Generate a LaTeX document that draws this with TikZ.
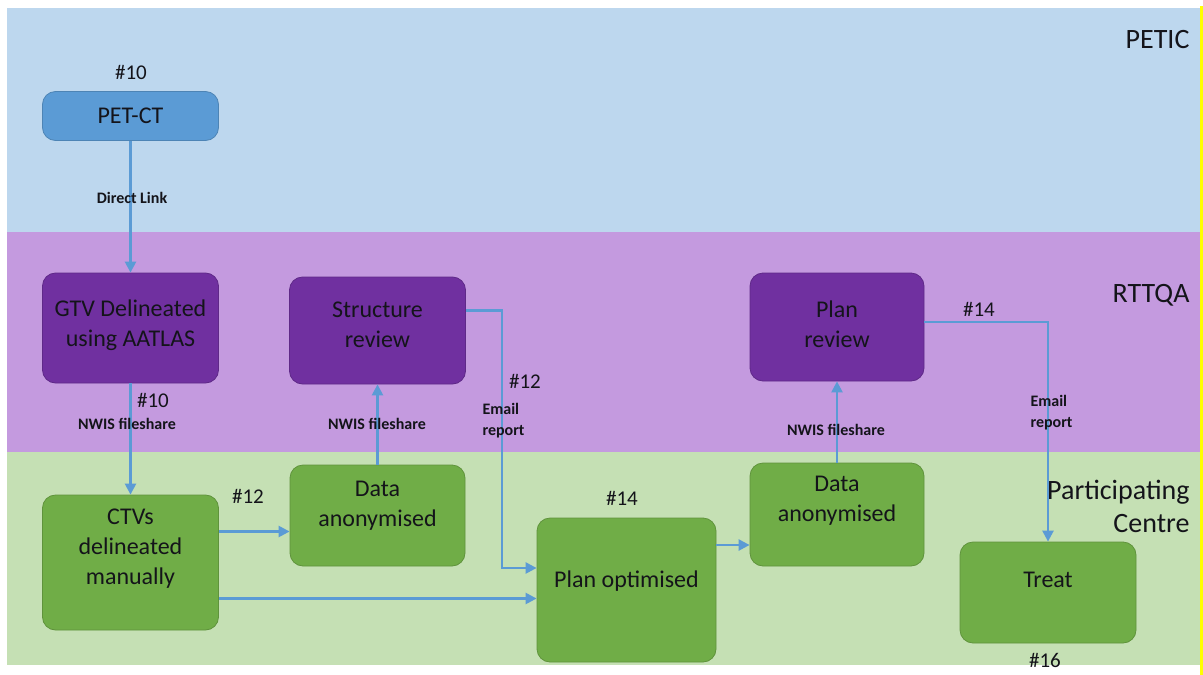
\documentclass[tikz,border=0pt]{standalone}
\usepackage{fontspec}
\setmainfont{Carlito}
\usetikzlibrary{arrows.meta}
\definecolor{bandblue}{HTML}{BDD7EE}
\definecolor{bandpurple}{HTML}{C49ADF}
\definecolor{bandgreen}{HTML}{C5E0B4}
\definecolor{boxblue}{HTML}{5B9BD5}
\definecolor{boxpurple}{HTML}{7030A0}
\definecolor{boxgreen}{HTML}{70AD47}
\definecolor{linkblue}{HTML}{5B9BD5}
\definecolor{textdark}{HTML}{14141A}
\definecolor{edgeyellow}{HTML}{FFFF00}
\begin{document}
\begin{tikzpicture}[x=1pt,y=-1pt,
    box/.style={rounded corners=13pt, draw=#1!85!black, fill=#1, line width=0.8pt,
      minimum width=176pt, inner sep=0pt},
    boxtext/.style={text=textdark, align=center, font=\fontsize{24}{30}\selectfont},
    note/.style={text=textdark, font=\bfseries\fontsize{16}{21}\selectfont, align=left},
    tag/.style={text=textdark, font=\fontsize{21}{25}\selectfont},
    region/.style={text=textdark, font=\fontsize{28}{33}\selectfont, align=right, anchor=east},
    link/.style={draw=linkblue, line width=2.4pt, -{Triangle[length=11pt,width=11pt]}}]
  \useasboundingbox (0,0) rectangle (1203,675);
  \fill[white] (0,0) rectangle (1203,675);
  % swim lanes
  \fill[bandblue] (7,8) rectangle (1200,232);
  \fill[bandpurple] (7,232) rectangle (1200,452);
  \fill[bandgreen] (7,452) rectangle (1200,665);
  \draw[edgeyellow, line width=3pt] (1201.5,6) -- (1201.5,675);
  \node[region] (petic) at (1193,40) {PETIC};
  \node[region] (rttqa) at (1193,295) {RTTQA};
  \node[region] (centre) at (1193,506) {Participating\\Centre};

  % boxes
  \node[box=boxblue, minimum height=49pt,
    label={[boxtext]center:PET-CT}] (pet) at (130.5,116) {};
  \node[box=boxpurple, minimum height=110pt,
    label={[boxtext,yshift=3pt]center:GTV Delineated\\using AATLAS}] (gtv) at (130.5,328) {};
  \node[box=boxpurple, minimum height=107pt,
    label={[boxtext,yshift=6pt]center:Structure\\review}] (struct) at (377.5,330.5) {};
  \node[box=boxpurple, minimum height=108pt, minimum width=174pt,
    label={[boxtext,yshift=3pt]center:Plan\\review}] (planrev) at (837,327) {};
  \node[box=boxgreen, minimum height=135pt,
    label={[boxtext,yshift=14pt]center:CTVs\\delineated\\manually}] (ctv) at (130.5,562.5) {};
  \node[box=boxgreen, minimum height=101pt, minimum width=175pt,
    label={[boxtext,yshift=10pt]center:Data\\anonymised}] (anonA) at (377.5,515.5) {};
  \node[box=boxgreen, minimum height=144pt, minimum width=179pt,
    label={[boxtext,yshift=9pt]center:Plan optimised}] (opt) at (626.5,590) {};
  \node[box=boxgreen, minimum height=103pt, minimum width=174pt,
    label={[boxtext,yshift=14pt]center:Data\\anonymised}] (anonB) at (837,514.5) {};
  \node[box=boxgreen, minimum height=101pt,
    label={[boxtext,yshift=13pt]center:Treat}] (treat) at (1048,592.5) {};

  % connectors
  \coordinate (bendA) at (502,568);
  \draw[link] (pet.south) -- (gtv.north);
  \draw[link] (gtv.south) -- (ctv.north);
  \draw[link] ([yshift=31pt]ctv.east) -- ([yshift=31pt]ctv.east -| anonA.west);
  \draw[link] ([yshift=-36pt]ctv.east) -- ([yshift=-36pt]ctv.east -| opt.west);
  \draw[link] (anonA.north) -- (struct.south);
  \draw[link] ([yshift=20pt]struct.east) -| (bendA) -- (bendA -| opt.west);
  \draw[link] ([yshift=45pt]opt.east) -- ([yshift=45pt]opt.east -| anonB.west);
  \draw[link] (anonB.north) -- (planrev.south);
  \draw[link] ([yshift=5pt]planrev.east) -| (treat.north);

  % labels
  \node[tag] (tagpet) at (131,72) {\#10};
  \node[note] (direct) at (132,198) {Direct Link};
  \node[tag] (taggtv) at (153,400) {\#10};
  \node[note] (nwisA) at (127,424) {NWIS fileshare};
  \node[note] (nwisB) at (377,424) {NWIS fileshare};
  \node[tag] (tagstruct) at (525,381) {\#12};
  \node[note, anchor=west] (emailA) at (479,421) {Email\\report};
  \node[tag] (tagctv) at (248,496) {\#12};
  \node[tag] (tagopt) at (622,498) {\#14};
  \node[note] (nwisC) at (836,430) {NWIS fileshare};
  \node[tag] (tagplan) at (979,309) {\#14};
  \node[note, anchor=west] (emailB) at (1027,413) {Email\\report};
  \node[tag] (tagtreat) at (1045,660) {\#16};
\end{tikzpicture}
\end{document}
